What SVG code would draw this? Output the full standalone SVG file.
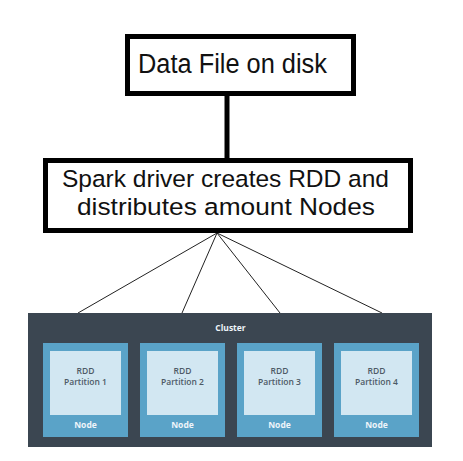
<svg xmlns="http://www.w3.org/2000/svg" width="463" height="461" viewBox="0 0 463 461">
<style>
.box{fill:#fff;stroke:#000;stroke-width:5}
.big{font-family:"Liberation Sans",Arial,sans-serif;font-size:24.5px;fill:#111}
.node{fill:#5aa3c8}
.inner{fill:#d2e7f2}
.lbl{font-family:"Open Sans","Liberation Sans",sans-serif;font-size:8.5px;font-weight:600;fill:#4d5a66;text-anchor:middle}
.wl{font-family:"Open Sans","Liberation Sans",sans-serif;font-size:8.5px;font-weight:700;fill:#eef5fa;text-anchor:middle}
.fan{stroke:#222;stroke-width:1;fill:none}
</style>
<rect width="463" height="461" fill="#fff"/>
<g id="connectors">
<line x1="227" y1="96" x2="227" y2="158" stroke="#000" stroke-width="5"/>
<line class="fan" x1="217" y1="233" x2="78" y2="313"/>
<line class="fan" x1="217" y1="233" x2="182" y2="313"/>
<line class="fan" x1="217" y1="233" x2="280" y2="313"/>
<line class="fan" x1="217" y1="233" x2="382" y2="313"/>
</g>
<g id="datafile">
<rect class="box" x="127.5" y="36.5" width="226" height="57"/>
<text class="big" x="138" y="73" style="font-size:27px" textLength="189" lengthAdjust="spacingAndGlyphs">Data File on disk</text>
</g>
<g id="driver">
<rect class="box" x="45.5" y="160.5" width="365" height="70"/>
<text class="big" x="62" y="187" textLength="327" lengthAdjust="spacingAndGlyphs">Spark driver creates RDD and</text>
<text class="big" x="77" y="215" textLength="298" lengthAdjust="spacingAndGlyphs">distributes amount Nodes</text>
</g>
<g id="cluster">
<rect x="28" y="313" width="404" height="134" fill="#3b4651"/>
<text class="wl" x="230.5" y="331">Cluster</text>
</g>
<g id="node1">
<rect class="node" x="43" y="343" width="85" height="94"/>
<rect class="inner" x="50" y="351" width="71" height="64"/>
<text class="lbl" x="85.5" y="374">RDD</text>
<text class="lbl" x="85.5" y="385">Partition 1</text>
<text class="wl" x="85.5" y="428">Node</text>
</g>
<g id="node2">
<rect class="node" x="140" y="343" width="85" height="94"/>
<rect class="inner" x="147" y="351" width="71" height="64"/>
<text class="lbl" x="182.5" y="374">RDD</text>
<text class="lbl" x="182.5" y="385">Partition 2</text>
<text class="wl" x="182.5" y="428">Node</text>
</g>
<g id="node3">
<rect class="node" x="237" y="343" width="85" height="94"/>
<rect class="inner" x="244" y="351" width="71" height="64"/>
<text class="lbl" x="279.5" y="374">RDD</text>
<text class="lbl" x="279.5" y="385">Partition 3</text>
<text class="wl" x="279.5" y="428">Node</text>
</g>
<g id="node4">
<rect class="node" x="334" y="343" width="85" height="94"/>
<rect class="inner" x="341" y="351" width="71" height="64"/>
<text class="lbl" x="376.5" y="374">RDD</text>
<text class="lbl" x="376.5" y="385">Partition 4</text>
<text class="wl" x="376.5" y="428">Node</text>
</g>
</svg>
